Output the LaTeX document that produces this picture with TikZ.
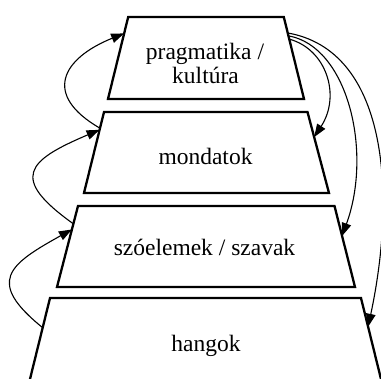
\documentclass[tikz,border=0pt]{standalone}
\usepackage{fontspec}
\setmainfont{Liberation Serif}
\usetikzlibrary{arrows.meta,calc}
\begin{document}
\begin{tikzpicture}[x=1pt,y=-1pt,
  layerbox/.style={draw=black, line width=2.3pt, line join=miter},
  lbl/.style={anchor=base, inner sep=0pt, font=\fontsize{23.5}{28}\selectfont},
  link/.style={line width=1.1pt, -{Triangle[length=13pt,width=9.5pt]}}]
\useasboundingbox (0,0) rectangle (381,379);
\clip (0,0) rectangle (381,379);

% corners of the four layers, top to bottom
\coordinate (t1tl) at (128.2,17);  \coordinate (t1tr) at (283.8,17);
\coordinate (t1br) at (304,99);    \coordinate (t1bl) at (108,99);
\coordinate (t2tl) at (104,112);   \coordinate (t2tr) at (307.5,112);
\coordinate (t2br) at (329,193);   \coordinate (t2bl) at (84,193);
\coordinate (t3tl) at (78,206);    \coordinate (t3tr) at (334.5,206);
\coordinate (t3br) at (355,287);   \coordinate (t3bl) at (57,287);
\coordinate (t4tl) at (50,298);    \coordinate (t4tr) at (361,298);
\coordinate (t4br) at (383.2,388); \coordinate (t4bl) at (27.8,388);

\draw[layerbox] (t1tl) -- (t1tr) -- (t1br) -- (t1bl) -- cycle;
\draw[layerbox] (t2tl) -- (t2tr) -- (t2br) -- (t2bl) -- cycle;
\draw[layerbox] (t3tl) -- (t3tr) -- (t3br) -- (t3bl) -- cycle;
\draw[layerbox] (t4tl) -- (t4tr) -- (t4br) -- (t4bl) -- cycle;

% labels
\node[lbl] (l1a) at (205,60) {pragmatika /};
\node[lbl] (l1b) at (205.5,84) {kultúra};
\node[lbl] (l2) at (205.5,165) {mondatok};
\node[lbl] (l3) at (204.5,256) {szóelemek / szavak};
\node[lbl] (l4) at (206,351.5) {hangok};

% attachment points on the slanted sides
\coordinate (a1) at ($(t2tl)!0.2!(t2bl)$);
\coordinate (b1) at ($(t1tl)!0.2!(t1bl)$);
\coordinate (a2) at ($(t3tl)!0.22!(t3bl)$);
\coordinate (b2) at ($(t2tl)!0.22!(t2bl)$);
\coordinate (a3) at ($(t4tl)!0.33!(t4bl)$);
\coordinate (b3) at ($(t3tl)!0.29!(t3bl)$);

\coordinate (rA) at ($(t1tr)!0.27!(t1br)$);
\coordinate (rB) at ($(t1tr)!0.23!(t1br)$);
\coordinate (rC) at ($(t1tr)!0.195!(t1br)$);
\coordinate (eA) at ($(t2tr)!0.31!(t2br)$);
\coordinate (eB) at ($(t3tr)!0.37!(t3br)$);
\coordinate (eC) at ($(t4tr)!0.32!(t4br)$);

% upward links on the left
\draw[link] (a1) .. controls +(150:67pt) and +(202:67pt) .. (b1);
\draw[link] (a2) .. controls +(144.5:79pt) and +(203:79pt) .. (b2);
\draw[link] (a3) .. controls +(141:73pt) and +(209:73pt) .. (b3);

% downward links on the right
\draw[link] (rA) .. controls +(-15:38pt) and +(57:50pt) .. (eA);
\draw[link] (rB) .. controls +(-10:60pt) and +(70:90pt) .. (eB);
\draw[link] (rC) .. controls +(-10:100pt) and +(78:140pt) .. (eC);
\end{tikzpicture}
\end{document}
